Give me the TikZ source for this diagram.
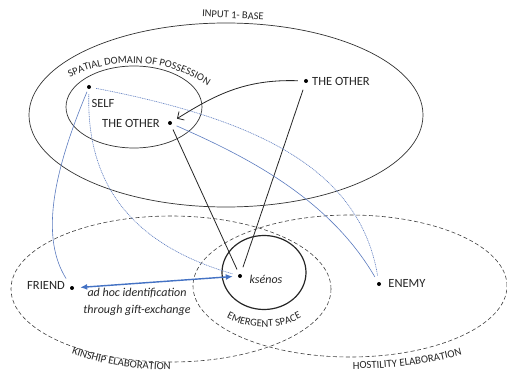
\documentclass[tikz,border=0pt]{standalone}
\usepackage{fontspec}
\setmainfont{Carlito}
\usetikzlibrary{decorations.text,arrows.meta}
\definecolor{thinblue}{RGB}{92,124,192}
\definecolor{arrowblue}{RGB}{68,114,196}
\begin{document}
\begin{tikzpicture}[x=1pt,y=1pt,
  dot/.style={circle,fill=black,inner sep=0pt,minimum size=4pt},
  lbl/.style={font=\fontsize{12.5}{14}\selectfont,inner sep=0pt,text=black!85},
  itl/.style={font=\fontsize{12}{14}\selectfont\itshape,inner sep=0pt,text=black!85},
  region/.style={draw=black!80,line width=0.7pt},
  elab/.style={draw=black!75,line width=0.6pt,dash pattern=on 4pt off 2.5pt},
  blueline/.style={draw=thinblue,line width=0.6pt},
  bluedot/.style={draw=thinblue,line width=0.6pt,dash pattern=on 1pt off 0.8pt},
  blkline/.style={draw=black!85,line width=0.8pt},
  curvedlbl/.style={decorate,decoration={text along path,text align=center,text color=black!85,text={#1}}}
]
\useasboundingbox (0,0) rectangle (507,373);
\fill[white] (0,0) rectangle (507,373);

% regions
\draw[region] (226,258) ellipse [x radius=197pt, y radius=92pt];
\draw[region] (134,266) ellipse [x radius=68pt, y radius=41pt];
\draw[elab] (171,84) ellipse [x radius=160pt, y radius=73pt];
\draw[elab] (350,87) ellipse [x radius=157pt, y radius=71pt];
\draw[black!85,line width=1.2pt] (264,100.5) ellipse [x radius=42pt, y radius=37pt];

% curved labels
\path[curvedlbl={|\fontsize{10.5}{12}\selectfont|SPATIAL DOMAIN OF POSSESSION}]
  (131.4,171) ++(125:139pt) arc[start angle=125,end angle=48,radius=139pt];
\path[curvedlbl={|\fontsize{10.5}{12}\selectfont|EMERGENT SPACE}]
  (264,126) ++(230:80pt) arc[start angle=230,end angle=310,radius=80pt];
\path[curvedlbl={|\fontsize{10.8}{12}\selectfont|KINSHIP ELABORATION}]
  (171,84) ++(228:165pt and 81pt) arc[start angle=228,end angle=274,x radius=165pt,y radius=81pt];
\path[curvedlbl={|\fontsize{10.8}{12}\selectfont|HOSTILITY ELABORATION}]
  (350,87) ++(265:200pt and 83pt) arc[start angle=265,end angle=311,x radius=200pt,y radius=83pt];
\node[font=\fontsize{10.5}{12}\selectfont,text=black!85,rotate=-3,inner sep=0pt] (input) at (233,358) {INPUT 1- BASE};

% points
\node[dot] (self) at (89,286) {};
\node[dot] (oth1) at (170,250) {};
\node[dot] (oth2) at (306,292) {};
\node[dot] (ks) at (240,97) {};
\node[dot] (fr) at (72,85) {};
\node[dot] (en) at (379,89) {};

% labels
\node[lbl] (selfl) at (103,270) {SELF};
\node[lbl] (oth1l) at (131,250) {THE OTHER};
\node[lbl] (oth2l) at (341,292) {THE OTHER};
\node[itl] (ksl) at (266,94) {ksénos};
\node[lbl] (frl) at (46,88) {FRIEND};
\node[lbl] (enl) at (407,90) {ENEMY};
\node[itl] (gift1) at (137,80) {ad hoc identification};
\node[itl] (gift2) at (137,63) {through gift-exchange};

% connectors
\draw[blkline,-{Straight Barb[length=5pt,width=10pt]},shorten <=6pt,shorten >=6pt]
  (oth2) .. controls (245,294) and (215,278) .. (oth1);
\draw[blkline,shorten <=5pt,shorten >=5pt] (oth1) -- (ks);
\draw[blkline,shorten <=7pt,shorten >=7pt] (oth2) -- (ks);

\draw[blueline,shorten <=3pt,shorten >=9pt] (self) .. controls (50,193) and (42,133) .. (fr);
\draw[bluedot,shorten <=5pt,shorten >=5pt] (self) .. controls (86,173) and (150,123) .. (ks);
\draw[bluedot,shorten <=5pt,shorten >=6pt] (self) .. controls (260,253) and (360,203) .. (en);
\draw[blueline,shorten <=5pt,shorten >=6pt] (oth1) .. controls (250,215) and (330,173) .. (en);
\draw[arrowblue,line width=1.4pt,{Latex[length=7pt,width=6pt]}-{Latex[length=7pt,width=6pt]},shorten <=6pt,shorten >=5pt] (fr) -- (ks);
\end{tikzpicture}
\end{document}
